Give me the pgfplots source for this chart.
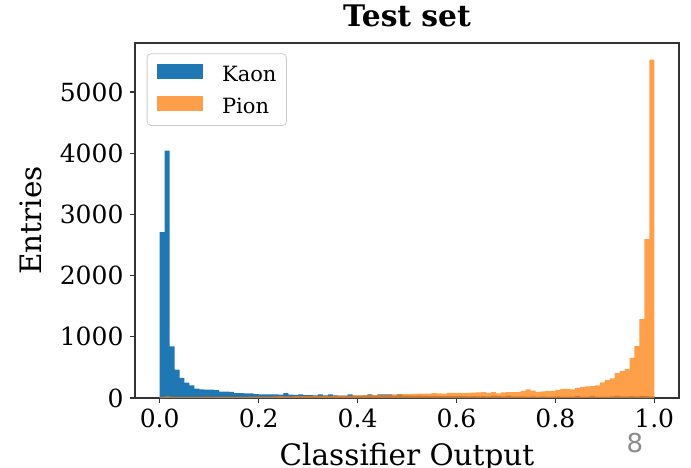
\documentclass[border=0pt]{standalone}
\usepackage{pgfplots}
\pgfplotsset{compat=1.18}
\usepackage{pgfplotstable}
\usepackage{fontspec}
\setmainfont{DejaVu Serif}
\newfontfamily\pagefont{DejaVu Sans}
\definecolor{kaon}{HTML}{1F77B4}
\definecolor{pion}{HTML}{FF7F0E}
\definecolor{spine}{HTML}{333333}
\definecolor{legframe}{HTML}{CCCCCC}

\pgfplotstableread{
x y
0.00 2710
0.01 4040
0.02 845
0.03 465
0.04 330
0.05 250
0.06 205
0.07 155
0.08 140
0.09 135
0.10 135
0.11 130
0.12 105
0.13 105
0.14 100
0.15 80
0.16 78
0.17 75
0.18 75
0.19 62
0.20 60
0.21 60
0.22 58
0.23 58
0.24 55
0.25 80
0.26 55
0.27 50
0.28 60
0.29 45
0.30 45
0.31 42
0.32 60
0.33 42
0.34 60
0.35 42
0.36 40
0.37 40
0.38 60
0.39 40
0.40 40
0.41 40
0.42 60
0.43 40
0.44 60
0.45 60
0.46 60
0.47 40
0.48 60
0.49 40
0.50 38
0.51 35
0.52 40
0.53 35
0.54 33
0.55 35
0.56 32
0.57 30
0.58 33
0.59 30
0.60 30
0.61 32
0.62 28
0.63 30
0.64 28
0.65 30
0.66 26
0.67 40
0.68 30
0.69 25
0.70 40
0.71 26
0.72 25
0.73 25
0.74 24
0.75 26
0.76 24
0.77 25
0.78 24
0.79 24
0.80 25
0.81 23
0.82 24
0.83 22
0.84 30
0.85 22
0.86 24
0.87 35
0.88 22
0.89 23
0.90 24
0.91 25
0.92 35
0.93 28
0.94 25
0.95 30
0.96 28
0.97 35
0.98 30
0.99 25
1.00 25
}\kaontable

\pgfplotstableread{
x y
0.00 15
0.01 25
0.02 18
0.03 15
0.04 15
0.05 14
0.06 15
0.07 16
0.08 15
0.09 17
0.10 16
0.11 18
0.12 17
0.13 18
0.14 18
0.15 20
0.16 19
0.17 20
0.18 21
0.19 22
0.20 22
0.21 23
0.22 24
0.23 25
0.24 30
0.25 27
0.26 28
0.27 29
0.28 30
0.29 31
0.30 32
0.31 33
0.32 34
0.33 35
0.34 36
0.35 37
0.36 38
0.37 39
0.38 40
0.39 42
0.40 44
0.41 45
0.42 47
0.43 48
0.44 50
0.45 52
0.46 55
0.47 58
0.48 60
0.49 62
0.50 65
0.51 68
0.52 70
0.53 72
0.54 70
0.55 80
0.56 75
0.57 72
0.58 82
0.59 80
0.60 82
0.61 80
0.62 85
0.63 88
0.64 90
0.65 98
0.66 82
0.67 95
0.68 75
0.69 90
0.70 98
0.71 98
0.72 98
0.73 115
0.74 142
0.75 120
0.76 100
0.77 110
0.78 114
0.79 114
0.80 131
0.81 150
0.82 150
0.83 140
0.84 165
0.85 180
0.86 190
0.87 195
0.88 207
0.89 255
0.90 298
0.91 320
0.92 405
0.93 440
0.94 470
0.95 654
0.96 848
0.97 1290
0.98 2595
0.99 5530
1.00 5530
}\piontable

\begin{document}
\begin{tikzpicture}[x=1pt,y=1pt]
\useasboundingbox (0,0) rectangle (691,467);
\begin{axis}[
  at={(135pt,69pt)}, anchor=south west,
  scale only axis, width=544pt, height=355pt,
  xmin=-0.05, xmax=1.05, ymin=0, ymax=5800,
  axis line style={spine, line width=1.3pt},
  every tick/.style={spine, line width=1.3pt},
  major tick length=5pt,
  tick align=outside,
  xtick pos=left, ytick pos=left,
  xtick={0,0.2,0.4,0.6,0.8,1.0},
  ytick={0,1000,2000,3000,4000,5000},
  /pgf/number format/assume math mode=true,
  xticklabel style={yshift=-2pt, /pgf/number format/.cd, fixed, fixed zerofill, precision=1},
  yticklabel style={xshift=-3pt, /pgf/number format/1000 sep={}},
  ticklabel style={font=\fontsize{25}{29}\selectfont},
  title={\textbf{Test set}},
  title style={at={(axis description cs:0.5,1)}, anchor=base, yshift=11pt, font=\fontsize{29.7}{34}\selectfont},
  xlabel={Classifier Output},
  xlabel style={at={(axis description cs:0.5,0)}, anchor=base, yshift=-67pt, font=\fontsize{29.5}{34}\selectfont},
  ylabel={Entries},
  ylabel style={at={(axis description cs:-0.1715,0.5)}, anchor=base, font=\fontsize{29.5}{34}\selectfont},
  legend style={at={(axis description cs:0,1)}, anchor=north west, xshift=11.7pt, yshift=-10.3pt,
    draw=legframe, line width=0.8pt, rounded corners=4pt, fill=white, fill opacity=0.8, text opacity=1,
    font=\fontsize{21}{25}\selectfont, inner xsep=10pt, inner ysep=10pt, row sep=12pt, column sep=19pt,
    nodes={inner sep=0pt, anchor=base west, text depth=2.5pt}},
  legend cell align=left,
]
\addplot[fill=kaon, draw=none, const plot mark left,
  legend image code/.code={\fill[kaon, fill opacity=1, sharp corners] (0pt,1.7pt) rectangle (46pt,17.4pt);}]
  table[x=x,y=y] {\kaontable} \closedcycle;
\addlegendentry{Kaon}
\addplot[fill=pion, fill opacity=0.75, draw=none, const plot mark left,
  legend image code/.code={\fill[pion, fill opacity=0.75, sharp corners] (0pt,1.7pt) rectangle (46pt,17.4pt);}]
  table[x=x,y=y] {\piontable} \closedcycle;
\addlegendentry{Pion}
\end{axis}
\node[anchor=base, text=black!45, font=\pagefont\fontsize{26}{30}\selectfont] at (635,15) {8};
\end{tikzpicture}
\end{document}
